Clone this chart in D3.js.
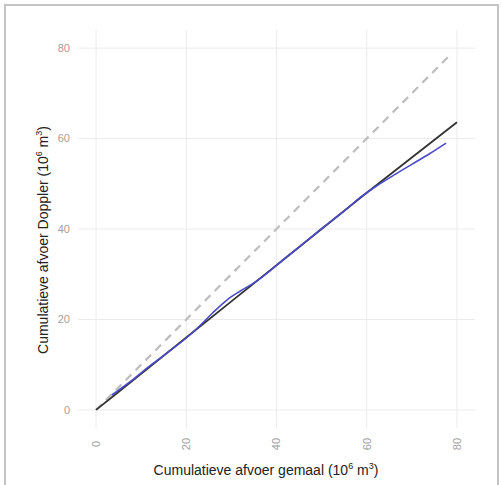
<!DOCTYPE html>
<html>
<head>
<meta charset="utf-8">
<script src="https://cdn.jsdelivr.net/npm/d3@7"></script>
<style>
  body { margin: 0; background: #fff; }
  svg text { font-family: "Liberation Sans", Arial, sans-serif; }
</style>
</head>
<body>
<div id="chart"></div>
<script>
// tick values
const xTicks = [0, 20, 40, 60, 80];
const yTicks = [0, 20, 40, 60, 80];

// 1:1 reference line
const refLine = [[0, 0], [78, 78]];

// fitted line (black)
const fitLine = [[0, 0], [4, 3.2], [20, 16], [30, 24], [40, 32], [50, 40], [60, 48], [70, 55.8], [80, 63.6]];

// measured cumulative (blue)
const measured = [[3.5, 3.3], [8, 6.6], [12, 9.8], [16, 12.8], [20, 15.9], [23, 18.6], [26, 21.6], [29, 24.3],
  [32, 26.3], [35, 28.1], [38, 30.3], [41, 32.8], [45, 36.0], [50, 40.1], [55, 44.0], [59, 47.3],
  [62, 49.4], [66, 51.9], [70, 54.3], [74, 56.7], [77.6, 59.0]];

let width = 502, height = 485;
let svg = d3.select("#chart").append("svg")
    .attr("width", width)
    .attr("height", height);

// outer frame
svg.append("rect")
    .attr("x", 5).attr("y", 5)
    .attr("width", 493).attr("height", 495)
    .attr("fill", "none")
    .attr("stroke", "#c4c4c4")
    .attr("stroke-width", 2);

var x = d3.scaleLinear().domain([-4, 84]).range([78, 475]);
var y = d3.scaleLinear().domain([-4, 84]).range([428, 30]);

// gridlines
svg.append("g").selectAll("line")
    .data(xTicks).enter().append("line")
    .attr("x1", d => x(d)).attr("x2", d => x(d))
    .attr("y1", y(-4)).attr("y2", y(84))
    .attr("stroke", "#ebebeb").attr("stroke-width", 1);
svg.append("g").selectAll("line")
    .data(yTicks).enter().append("line")
    .attr("y1", d => y(d)).attr("y2", d => y(d))
    .attr("x1", x(-4)).attr("x2", x(84))
    .attr("stroke", "#ebebeb").attr("stroke-width", 1);

// tick labels
svg.append("g").selectAll("text")
    .data(yTicks).enter().append("text")
    .attr("x", 70).attr("y", d => y(d))
    .attr("dy", "0.35em")
    .attr("text-anchor", "end")
    .attr("font-size", 11)
    .attr("fill", "#a0a0a0")
    .text(d => d);
svg.append("g").selectAll("text")
    .data(xTicks).enter().append("text")
    .attr("transform", d => "translate(" + x(d) + ",444) rotate(-90)")
    .attr("dy", "0.35em")
    .attr("text-anchor", "middle")
    .attr("font-size", 11)
    .attr("fill", "#a0a0a0")
    .text(d => d);

var line = d3.line().x(d => x(d[0])).y(d => y(d[1]));
var smooth = d3.line().x(d => x(d[0])).y(d => y(d[1])).curve(d3.curveMonotoneX);

svg.append("path")
    .datum(refLine)
    .attr("d", line)
    .attr("fill", "none")
    .attr("stroke", "#bdbdbd")
    .attr("stroke-width", 2.2)
    .attr("stroke-dasharray", "8,6");

svg.append("path")
    .datum(fitLine)
    .attr("d", line)
    .attr("fill", "none")
    .attr("stroke", "#333333")
    .attr("stroke-width", 1.8);

svg.append("path")
    .datum(measured)
    .attr("d", smooth)
    .attr("fill", "none")
    .attr("stroke", "#4a4acc")
    .attr("stroke-width", 1.6);

// axis titles
let xt = svg.append("text")
    .attr("x", 266).attr("y", 475)
    .attr("text-anchor", "middle")
    .attr("font-size", 14)
    .attr("fill", "#222");
xt.append("tspan").text("Cumulatieve afvoer gemaal (10");
xt.append("tspan").attr("dy", -6).attr("font-size", 9).text("6");
xt.append("tspan").attr("dy", 6).text(" m");
xt.append("tspan").attr("dy", -6).attr("font-size", 9).text("3");
xt.append("tspan").attr("dy", 6).text(")");

let yt = svg.append("text")
    .attr("transform", "translate(48,240) rotate(-90)")
    .attr("text-anchor", "middle")
    .attr("font-size", 14)
    .attr("fill", "#222");
yt.append("tspan").text("Cumulatieve afvoer Doppler (10");
yt.append("tspan").attr("dy", -6).attr("font-size", 9).text("6");
yt.append("tspan").attr("dy", 6).text(" m");
yt.append("tspan").attr("dy", -6).attr("font-size", 9).text("3");
yt.append("tspan").attr("dy", 6).text(")");
</script>
</body>
</html>
